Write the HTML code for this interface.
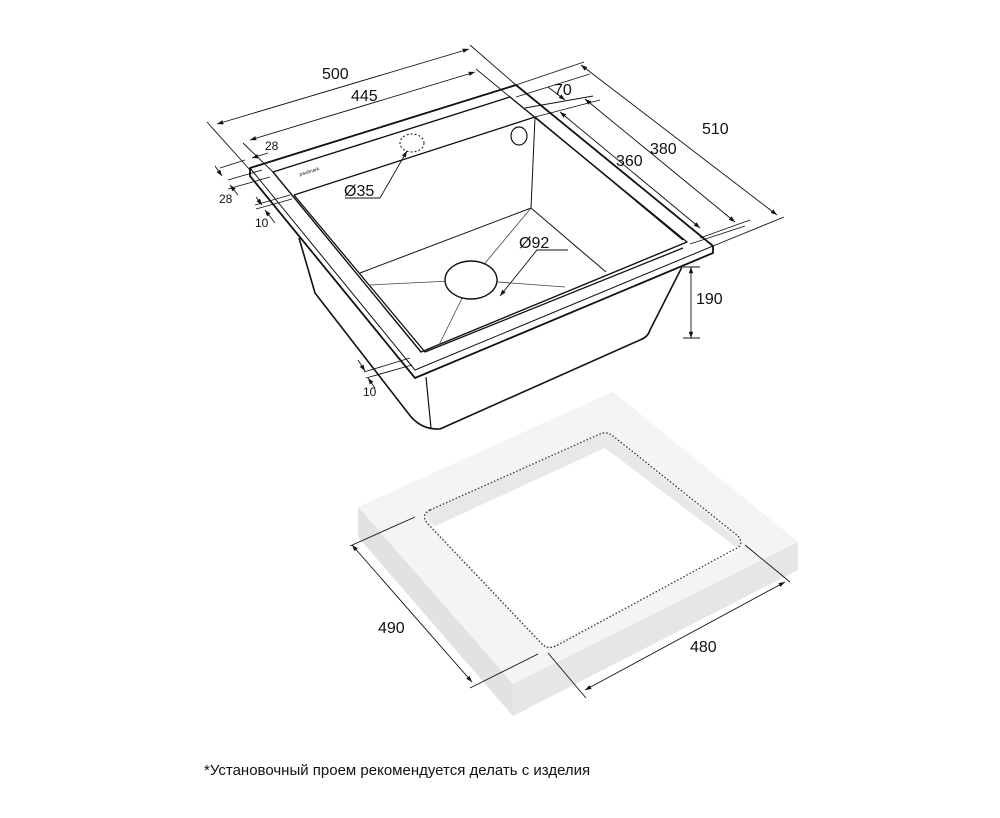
<!DOCTYPE html>
<html><head><meta charset="utf-8"><style>
html,body{margin:0;padding:0;background:#fff}
svg{display:block}
text{font-family:"Liberation Sans",sans-serif;fill:#111}
</style></head><body>
<svg width="1000" height="818" viewBox="0 0 1000 818" xmlns="http://www.w3.org/2000/svg">
<defs>
<marker id="a" viewBox="0 0 10 10" refX="10" refY="5" markerWidth="7" markerHeight="7" orient="auto-start-reverse"><path d="M0,1.5 L10,5 L0,8.5z" fill="#111"/></marker>
</defs>
<!-- countertop -->
<polygon points="358,507 613,392 798,542 798,570 513,716 358,537" fill="#e6e6e6"/>
<polygon points="358,507 613,392 798,542 513,684" fill="#f4f4f4"/>
<polygon points="358,507 513,684 513,716 358,537" fill="#e2e2e2"/>
<polygon points="423,513 607,432 742,543 547,647" fill="#e8e8e8"/>
<polygon points="433,527 605,448 740,550 547,647" fill="#fff"/>
<path d="M430,510 L600,434 Q607,431 613,436 L738,536 Q745,545 735,549 L556,646 Q547,650 541,643 L428,524 Q420,515 430,510z" fill="none" stroke="#333" stroke-width="1.3" stroke-dasharray="1.5,2"/>
<!-- sink body -->
<g fill="none" stroke="#111" stroke-linejoin="round">
<path d="M299,238 L315,293 L408,413 Q420,430 440,429 L640,340 Q648,337 650,330 L682,267" stroke-width="1.6"/>
<line x1="426" y1="377" x2="431" y2="428" stroke-width="1.2"/>
<path d="M250,168 L516,85 L713,246 L713,253 L415,378 L250,176z" stroke-width="1.8"/>
<polyline points="250,168 415,370 713,246" stroke-width="1"/>
<path d="M273,172 L510,97 L687,242 L421,352z" stroke-width="1.4"/>
<path d="M294,195 L535,117 L683,240" stroke-width="1.3"/>
<path d="M294,195 L425,352 L683,248" stroke-width="1.3"/>
<line x1="535" y1="118" x2="531" y2="208" stroke-width="1"/>
<line x1="531" y1="208" x2="360" y2="273" stroke-width="1"/>
<line x1="531" y1="208" x2="606" y2="272" stroke-width="1"/>
<g stroke-width="0.8" stroke="#444">
<line x1="531" y1="208" x2="471" y2="280"/>
<line x1="369" y1="285" x2="471" y2="280"/>
<line x1="565" y1="287" x2="471" y2="280"/>
<line x1="438" y1="347" x2="471" y2="280"/>
</g>
<ellipse cx="471" cy="280" rx="26" ry="19" fill="#fff" stroke-width="1.4"/>
<ellipse cx="519" cy="136" rx="8" ry="9" stroke-width="1.2"/>
<ellipse cx="412" cy="143" rx="12" ry="9" stroke-width="1" stroke-dasharray="2,2"/>
</g>
<text x="300" y="176" font-size="5" transform="rotate(-17 300 176)" fill="#555">paulmark</text>
<!-- dimensions -->
<g stroke="#111" stroke-width="0.9" fill="none">
<line x1="217" y1="124" x2="469" y2="49" marker-start="url(#a)" marker-end="url(#a)"/>
<line x1="250" y1="140" x2="475" y2="72" marker-start="url(#a)" marker-end="url(#a)"/>
<line x1="207" y1="122" x2="250" y2="170"/><line x1="470" y1="45" x2="516" y2="85"/>
<line x1="476" y1="69" x2="510" y2="97"/><line x1="243" y1="143" x2="273" y2="172"/>
<line x1="581" y1="65" x2="777" y2="215" marker-start="url(#a)" marker-end="url(#a)"/>
<line x1="585" y1="99" x2="735" y2="222" marker-start="url(#a)" marker-end="url(#a)"/>
<line x1="560" y1="112" x2="700" y2="228" marker-start="url(#a)" marker-end="url(#a)"/>
<line x1="516" y1="85" x2="584" y2="62"/><line x1="516" y1="97" x2="590" y2="74"/>
<line x1="525" y1="108" x2="593" y2="96"/><line x1="535" y1="117" x2="600" y2="100"/>
<line x1="713" y1="246" x2="784" y2="217"/><line x1="700" y1="238" x2="750" y2="220"/>
<line x1="690" y1="244" x2="745" y2="226"/>
<line x1="548" y1="87" x2="565" y2="100" marker-end="url(#a)"/>
<line x1="691" y1="267" x2="691" y2="338" marker-start="url(#a)" marker-end="url(#a)"/>
<line x1="683" y1="267" x2="700" y2="267"/><line x1="683" y1="338" x2="700" y2="338"/>
<line x1="220" y1="168" x2="245" y2="160"/><line x1="228" y1="180" x2="262" y2="170"/>
<line x1="228" y1="189" x2="270" y2="177"/><line x1="255" y1="205" x2="290" y2="195"/>
<line x1="256" y1="209" x2="292" y2="199"/>
<line x1="215" y1="166" x2="222" y2="176" marker-end="url(#a)"/><line x1="238" y1="195" x2="230" y2="185" marker-end="url(#a)"/>
<line x1="256" y1="197" x2="262" y2="205" marker-end="url(#a)"/><line x1="275" y1="223" x2="265" y2="210" marker-end="url(#a)"/>
<line x1="252" y1="158" x2="268" y2="153" marker-start="url(#a)"/>
<line x1="364" y1="372" x2="410" y2="358"/><line x1="366" y1="378" x2="412" y2="365"/>
<line x1="358" y1="360" x2="365" y2="371" marker-end="url(#a)"/><line x1="375" y1="388" x2="368" y2="378" marker-end="url(#a)"/>
<polyline points="345,198 380,198 407,151" marker-end="url(#a)"/>
<polyline points="568,250 537,250 500,296" marker-end="url(#a)"/>
<line x1="352" y1="545" x2="472" y2="682" marker-start="url(#a)" marker-end="url(#a)"/>
<line x1="350" y1="546" x2="415" y2="517"/><line x1="470" y1="688" x2="538" y2="654"/>
<line x1="585" y1="690" x2="785" y2="582" marker-start="url(#a)" marker-end="url(#a)"/>
<line x1="548" y1="653" x2="586" y2="698"/><line x1="745" y1="545" x2="790" y2="582"/>
</g>
<g font-size="16">
<text x="322" y="79">500</text><text x="351" y="101">445</text>
<text x="702" y="134">510</text><text x="650" y="154">380</text><text x="616" y="166">360</text>
<text x="554" y="95">70</text><text x="696" y="304">190</text>
<text x="344" y="196">Ø35</text><text x="519" y="248">Ø92</text>
<text x="378" y="633">490</text><text x="690" y="652">480</text>
</g>
<g font-size="12">
<text x="265" y="150">28</text><text x="219" y="203">28</text><text x="255" y="227">10</text><text x="363" y="396">10</text>
</g>
<text x="204" y="775" font-size="15">*Установочный проем рекомендуется делать с изделия</text>
</svg>
</body></html>
